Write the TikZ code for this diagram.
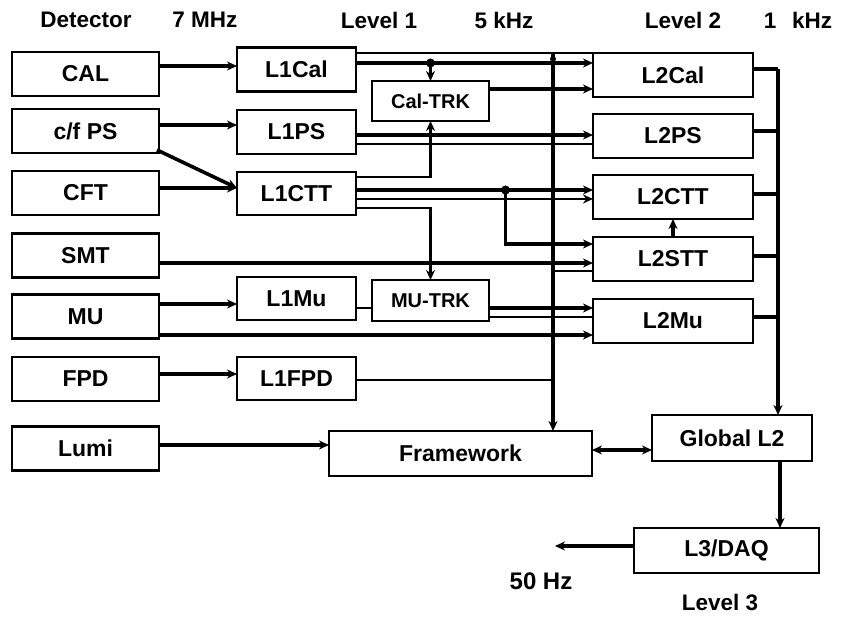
\documentclass[tikz,border=0pt]{standalone}
\usepackage{fontspec}
\setmainfont{Liberation Sans}
\usetikzlibrary{arrows.meta}
\begin{document}
\begin{tikzpicture}[x=1pt,y=-1pt,
  box/.style={draw, line width=2.8pt, inner sep=0pt, outer sep=0pt, font=\bfseries\fontsize{23}{23}\selectfont},
  lc/.style={box, minimum width=147pt, minimum height=44pt},
  lone/.style={box, minimum width=119pt, minimum height=44pt},
  ltwo/.style={box, minimum width=160pt, minimum height=44pt},
  trk/.style={box, minimum width=117pt, minimum height=40pt, font=\bfseries\fontsize{20}{20}\selectfont},
  hdr/.style={font=\bfseries\fontsize{22.5}{22.5}\selectfont, inner sep=0pt},
  thk/.style={line width=3.6pt},
  thn/.style={line width=2.4pt},
  arr/.style={-{Stealth[length=10pt,width=9pt]}},
  jdot/.style={circle, fill, inner sep=0pt, minimum size=9pt}
]
\useasboundingbox (0,0) rectangle (841,617);

% headers
\node[hdr] (hA) at (86,20) {Detector};
\node[hdr] (hB) at (205,20) {7 MHz};
\node[hdr] (hC) at (379,20) {Level 1};
\node[hdr] (hD) at (504,20) {5 kHz};
\node[hdr] (hE) at (683,20) {Level 2};
\node[hdr] (hF) at (798,20) {1\hspace{0.7em}kHz};

% detector column
\node[lc] (CAL)  at (85.5,74)    {CAL};
\node[lc] (CFPS) at (85.5,131)   {c/f PS};
\node[lc] (CFT)  at (85.5,193)   {CFT};
\node[lc] (SMT)  at (85.5,255.5) {SMT};
\node[lc] (MU)   at (85.5,316.5) {MU};
\node[lc] (FPD)  at (85.5,379)   {FPD};
\node[lc] (Lumi) at (85.5,448.5) {Lumi};

% level 1 column
\node[lone] (L1Cal) at (296.5,69.5)  {L1Cal};
\node[lone] (L1PS)  at (296.5,132)   {L1PS};
\node[lone, minimum height=43pt] (L1CTT) at (296.5,193.5) {L1CTT};
\node[lone, minimum height=43pt] (L1Mu)  at (296.5,298.5) {L1Mu};
\node[lone, minimum height=43pt] (L1FPD) at (296.5,378.5) {L1FPD};

\node[trk] (CalTRK) at (430.5,101)   {Cal-TRK};
\node[trk, minimum height=41pt] (MuTRK) at (430.5,300.5) {MU-TRK};

% level 2 column
\node[ltwo] (L2Cal) at (673,75)  {L2Cal};
\node[ltwo] (L2PS)  at (673,136) {L2PS};
\node[ltwo] (L2CTT) at (673,197) {L2CTT};
\node[ltwo] (L2STT) at (673,259) {L2STT};
\node[ltwo] (L2Mu)  at (673,321) {L2Mu};

\node[box, minimum width=263pt, minimum height=45pt] (FW) at (460.5,453.5) {Framework};
\node[box, minimum width=160pt, minimum height=46pt] (GL2) at (732,438) {Global L2};
\node[box, minimum width=185pt, minimum height=45pt] (L3) at (726.5,550.5) {L3/DAQ};

\node[font=\bfseries\fontsize{24}{24}\selectfont, inner sep=0pt] (hz) at (541,581) {50 Hz};
\node[hdr] (lv3) at (720,602) {Level 3};

% bus coordinates
\coordinate (bt) at (553,53);
\coordinate (rb) at (778,69);
\coordinate (lo) at (780,500);
\coordinate (out) at (555,546);

% detector -> level 1
\draw[thk,arr] ([yshift=8pt]CAL.east) -- ([yshift=3.5pt]L1Cal.west);
\draw[thk,arr] ([yshift=6pt]CFPS.east) -- ([yshift=7pt]L1PS.west);
\draw[thk,arr] ([xshift=-2pt,yshift=3pt]CFPS.south east) -- ([yshift=5.5pt]L1CTT.west);
\draw[thk,arr] ([yshift=5pt]CFT.east) -- ([yshift=5.5pt]L1CTT.west);
\draw[thk,arr] ([yshift=12.5pt]MU.east) -- ([yshift=-5.5pt]L1Mu.west);
\draw[thk,arr] ([yshift=5pt]FPD.east) -- ([yshift=4.5pt]L1FPD.west);
\draw[thk,arr] ([yshift=3.5pt]Lumi.east) -- ([yshift=8.5pt]FW.west);

% detector -> level 2
\draw[thk,arr] ([yshift=-7.5pt]SMT.east) -- ([yshift=-4pt]L2STT.west);
\draw[thk,arr] ([yshift=-18.5pt]MU.east) -- ([yshift=-14pt]L2Mu.west);

% L1Cal outputs
\draw[thn] ([yshift=16.5pt]L1Cal.east) -- ([yshift=22pt]L2Cal.west);
\draw[thk,arr] ([yshift=6.5pt]L1Cal.east) -- ([yshift=12pt]L2Cal.west);
\coordinate (d1) at ([yshift=6.5pt]L1Cal.east -| CalTRK.north);
\node[jdot] (j1) at (d1) {};
\draw[thn,arr] (j1.center) -- (CalTRK.north);
\draw[thk,arr] ([yshift=12pt]CalTRK.east) -- ([yshift=-14pt]L2Cal.west);

% L1PS outputs
\draw[thk,arr] ([yshift=-3pt]L1PS.east) -- ([yshift=1pt]L2PS.west);
\draw[thn] ([yshift=-12pt]L1PS.east) -- ([yshift=-8pt]L2PS.west);

% L1CTT outputs
\coordinate (c1) at ([yshift=16.5pt]L1CTT.east);
\draw[thn,arr] (c1) -| (CalTRK.south);
\draw[thk,arr] ([yshift=3.5pt]L1CTT.east) -- ([yshift=7pt]L2CTT.west);
\coordinate (c2) at ([yshift=3.5pt]L1CTT.east);
\coordinate (d2) at ([xshift=149.5pt]c2);
\node[jdot] (j2) at (d2) {};
\coordinate (s1) at ([yshift=15pt]L2STT.west);
\draw[thk,arr] (j2.center) |- (s1);
\draw[thn,arr] ([yshift=-5.5pt]L1CTT.east) -- ([yshift=-2pt]L2CTT.west);
\coordinate (c4) at ([yshift=-14.5pt]L1CTT.east);
\draw[thn,arr] (c4) -| (MuTRK.north);

% L1Mu / MU-TRK
\draw[thn] ([yshift=-9.5pt]L1Mu.east) -- ([yshift=-7.5pt]MuTRK.west);
\draw[thk,arr] ([yshift=-7.5pt]MuTRK.east) -- ([yshift=13pt]L2Mu.west);
\draw[thn] ([yshift=-16.5pt]MuTRK.east) -- ([yshift=4pt]L2Mu.west);

% left bus into Framework
\draw[line width=4pt,arr] (bt) -- (bt |- FW.north);
\node[jdot, minimum size=6pt] (j3) at (553,59) {};
\coordinate (f1) at ([yshift=-1.5pt]L1FPD.east);
\draw[thn] (f1) -- (f1 -| bt);
\coordinate (s2) at ([yshift=-12pt]L2STT.west);
\draw[thn] (s2 -| bt) -- (s2);

% L2 -> Global L2 bus
\draw[thk] ([yshift=6pt]L2Cal.east) -- (rb);
\draw[thk,arr] (rb) -- (rb |- GL2.north);
\coordinate (r2) at ([yshift=5pt]L2PS.east);
\draw[thk] (r2) -- (r2 -| rb);
\coordinate (r3) at ([yshift=3pt]L2CTT.east);
\draw[thk] (r3) -- (r3 -| rb);
\coordinate (r4) at ([yshift=3pt]L2STT.east);
\draw[thk] (r4) -- (r4 -| rb);
\coordinate (r5) at ([yshift=4pt]L2Mu.east);
\draw[thk] (r5) -- (r5 -| rb);

% L2STT -> L2CTT
\draw[thk,arr] (L2STT.north) -- (L2CTT.south);

% Framework <-> Global L2
\coordinate (fw1) at ([yshift=3.5pt]FW.east);
\draw[thk,{Stealth[length=10pt,width=9pt]}-{Stealth[length=10pt,width=9pt]}] (fw1) -- (fw1 -| GL2.west);

% Global L2 -> L3/DAQ -> out
\draw[thk,arr] (GL2.south -| lo) -- (L3.north -| lo);
\draw[thk,arr] (L3.west |- out) -- (out);
\end{tikzpicture}
\end{document}
